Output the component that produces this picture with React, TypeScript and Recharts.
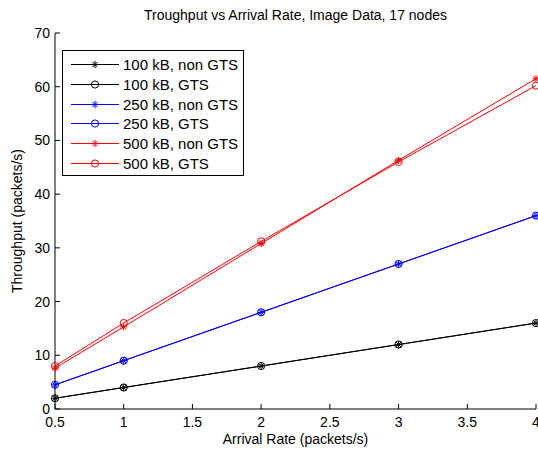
import React from "react";
import { LineChart, Line, XAxis, YAxis } from "recharts";

const arrivalRate = [0.5, 1, 2, 3, 4];
const kb100NonGts = [2, 4, 8, 12, 16];
const kb100Gts = [2, 4, 8, 12, 16];
const kb250NonGts = [4.5, 9, 18, 27, 36];
const kb250Gts = [4.5, 9, 18, 27, 36];
const kb500NonGts = [7.6, 15.3, 30.8, 46.3, 61.5];
const kb500Gts = [8, 16, 31.2, 46, 60.2];

const xTicks = [0.5, 1, 1.5, 2, 2.5, 3, 3.5, 4];
const yTicks = [0, 10, 20, 30, 40, 50, 60, 70];

const data = arrivalRate.map((x, i) => ({
  x,
  a: kb100NonGts[i],
  b: kb100Gts[i],
  c: kb250NonGts[i],
  d: kb250Gts[i],
  e: kb500NonGts[i],
  f: kb500Gts[i],
}));

const series = [
  { key: "a", name: "100 kB, non GTS", color: "#000000", marker: "star" },
  { key: "b", name: "100 kB, GTS", color: "#000000", marker: "circle" },
  { key: "c", name: "250 kB, non GTS", color: "#0000ff", marker: "star" },
  { key: "d", name: "250 kB, GTS", color: "#0000ff", marker: "circle" },
  { key: "e", name: "500 kB, non GTS", color: "#ff0000", marker: "star" },
  { key: "f", name: "500 kB, GTS", color: "#ff0000", marker: "circle" },
];

const FONT = "'Liberation Sans', Arial, sans-serif";
const TICK = 5;

function Marker({ cx, cy, color, kind }: any) {
  if (cx == null || cy == null) return null;
  if (kind === "circle") {
    return <circle cx={cx} cy={cy} r={3.6} fill="none" stroke={color} strokeWidth={1} />;
  }
  const r = 3.6;
  const d = r * 0.72;
  return (
    <g stroke={color} strokeWidth={1}>
      <line x1={cx - r} y1={cy} x2={cx + r} y2={cy} />
      <line x1={cx} y1={cy - r} x2={cx} y2={cy + r} />
      <line x1={cx - d} y1={cy - d} x2={cx + d} y2={cy + d} />
      <line x1={cx - d} y1={cy + d} x2={cx + d} y2={cy - d} />
    </g>
  );
}

const BottomTick = ({ x, y, payload }: any) => (
  <g>
    <line x1={x} y1={y} x2={x} y2={y - TICK} stroke="#000" />
    <text x={x} y={y + 18} textAnchor="middle" fontSize={14} fontFamily={FONT} fill="#000">
      {payload.value}
    </text>
  </g>
);

const TopTick = ({ x, y }: any) => <line x1={x} y1={y} x2={x} y2={y + TICK} stroke="#000" />;

const LeftTick = ({ x, y, payload }: any) => (
  <g>
    <line x1={x} y1={y} x2={x + TICK} y2={y} stroke="#000" />
    <text x={x - 5} y={y + 5} textAnchor="end" fontSize={14} fontFamily={FONT} fill="#000">
      {payload.value}
    </text>
  </g>
);

const RightTick = ({ x, y }: any) => <line x1={x} y1={y} x2={x - TICK} y2={y} stroke="#000" />;

function LegendBox() {
  return (
    <div
      style={{
        position: "absolute",
        left: 62,
        top: 50,
        width: 180,
        height: 124,
        border: "1px solid #000",
        background: "#fff",
        fontFamily: FONT,
        fontSize: 15,
      }}
    >
      {series.map((s, i) => (
        <div key={s.key} style={{ position: "absolute", left: 0, top: 4 + i * 19.8, height: 19, display: "flex", alignItems: "center" }}>
          <svg width={60} height={19}>
            <line x1={8} y1={9.5} x2={56} y2={9.5} stroke={s.color} strokeWidth={1} />
            <Marker cx={32} cy={9.5} color={s.color} kind={s.marker} />
          </svg>
          <span style={{ color: "#000", whiteSpace: "nowrap" }}>{s.name}</span>
        </div>
      ))}
    </div>
  );
}

export default function App() {
  return (
    <div style={{ position: "absolute", left: 0, top: 0, width: 538, height: 452, background: "#fff" }}>
      <div
        style={{
          position: "absolute",
          left: 55,
          width: 481,
          top: 7,
          textAlign: "center",
          fontFamily: FONT,
          fontSize: 14,
          color: "#000",
        }}
      >
        Troughput vs Arrival Rate, Image Data, 17 nodes
      </div>
      <LineChart width={538} height={452} data={data} margin={{ top: 33, right: 2, bottom: 0, left: 0 }}>
        <XAxis
          dataKey="x"
          type="number"
          domain={[0.5, 4]}
          ticks={xTicks}
          interval={0}
          height={43}
          tickSize={0}
          tickMargin={0}
          tickLine={false}
          axisLine={{ stroke: "#000" }}
          tick={<BottomTick />}
          label={{
            content: ({ viewBox }: any) => (
              <text
                x={viewBox.x + viewBox.width / 2}
                y={viewBox.y + 35}
                textAnchor="middle"
                fontSize={14}
                fontFamily={FONT}
                fill="#000"
              >
                Arrival Rate (packets/s)
              </text>
            ),
          }}
        />
        <XAxis
          xAxisId="top"
          dataKey="x"
          orientation="top"
          type="number"
          domain={[0.5, 4]}
          ticks={xTicks}
          interval={0}
          height={0}
          tickSize={0}
          tickMargin={0}
          tickLine={false}
          axisLine={{ stroke: "#000" }}
          tick={<TopTick />}
        />
        <YAxis
          type="number"
          domain={[0, 70]}
          ticks={yTicks}
          interval={0}
          width={55}
          tickSize={0}
          tickMargin={0}
          tickLine={false}
          axisLine={{ stroke: "#000" }}
          tick={<LeftTick />}
          label={{
            content: ({ viewBox }: any) => {
              const cx = 18;
              const cy = viewBox.y + viewBox.height / 2;
              return (
                <text
                  x={cx}
                  y={cy}
                  transform={`rotate(-90, ${cx}, ${cy})`}
                  textAnchor="middle"
                  dominantBaseline="middle"
                  fontSize={14}
                  fontFamily={FONT}
                  fill="#000"
                >
                  Throughput (packets/s)
                </text>
              );
            },
          }}
        />
        <YAxis
          yAxisId="right"
          orientation="right"
          type="number"
          domain={[0, 70]}
          ticks={yTicks}
          interval={0}
          width={0}
          tickSize={0}
          tickMargin={0}
          tickLine={false}
          axisLine={{ stroke: "#000" }}
          tick={<RightTick />}
        />
        {series.map((s) => (
          <Line
            key={s.key}
            dataKey={s.key}
            name={s.name}
            type="linear"
            stroke={s.color}
            strokeWidth={1}
            isAnimationActive={false}
            dot={(p: any) => <Marker key={`${s.key}-${p.index}`} cx={p.cx} cy={p.cy} color={s.color} kind={s.marker} />}
            activeDot={false}
          />
        ))}
      </LineChart>
      <LegendBox />
    </div>
  );
}
